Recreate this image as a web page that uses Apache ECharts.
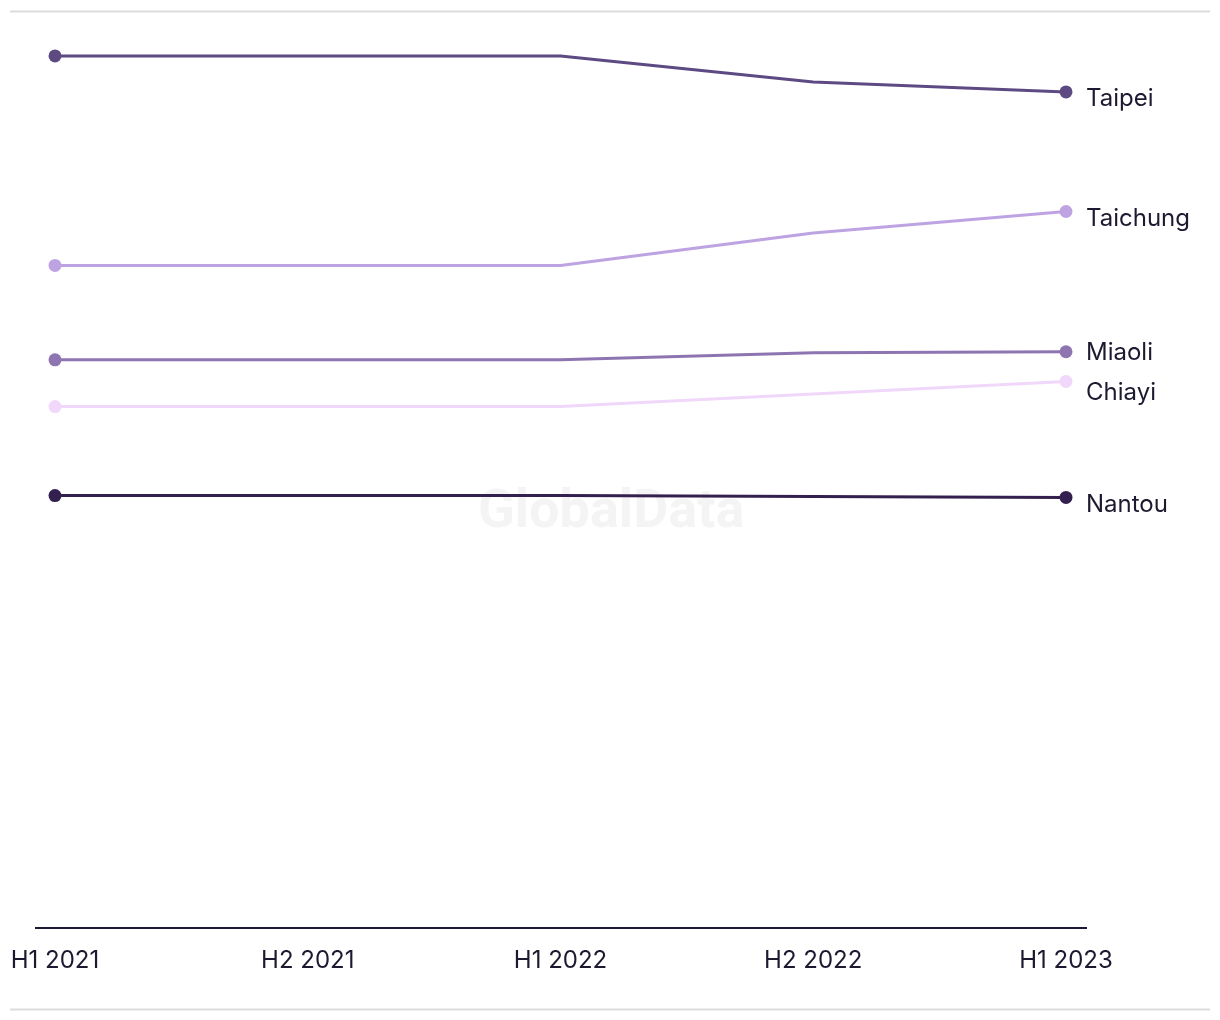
<!DOCTYPE html>
<html>
<head>
<meta charset="utf-8">
<script src="https://cdn.jsdelivr.net/npm/echarts@6/dist/echarts.min.js"></script>
<style>
html,body{margin:0;padding:0;background:#fff;}
#chart{width:1220px;height:1020px;}
</style>
</head>
<body>
<div id="chart"></div>
<script>
var categories = ['H1 2021', 'H2 2021', 'H1 2022', 'H2 2022', 'H1 2023'];
var seriesNames = ['Taipei', 'Taichung', 'Miaoli', 'Chiayi', 'Nantou'];
var taipei   = [97.0, 97.0, 97.0, 94.1, 93.0];
var taichung = [73.7, 73.7, 73.7, 77.3, 79.7];
var miaoli   = [63.2, 63.2, 63.2, 64.0, 64.1];
var chiayi   = [58.0, 58.0, 58.0, 59.4, 60.8];
var nantou   = [48.1, 48.1, 48.1, 48.0, 47.9];
var seriesData = [taipei, taichung, miaoli, chiayi, nantou];
var colors = ['#5d4a83', '#bea3e2', '#8e75b2', '#f1d8fb', '#34204f'];
var labelOffsets = [7, 7, 1, 11, 7];

var chart = echarts.init(document.getElementById('chart'));
var FONT = 'Inter, "Noto Sans", sans-serif';

var series = seriesNames.map(function (name, i) {
  return {
    name: name,
    type: 'line',
    data: seriesData[i],
    smooth: false,
    symbol: 'circle',
    symbolSize: function (v, p) { return (p.dataIndex === 0 || p.dataIndex === categories.length - 1) ? 13 : 0; },
    showAllSymbol: true,
    lineStyle: { width: 3, color: colors[i] },
    itemStyle: { color: colors[i] },
    emphasis: { disabled: true },
    endLabel: {
      show: true,
      formatter: '{a}',
      fontFamily: FONT,
      fontSize: 24,
      color: '#1c1a30',
      distance: 20,
      offset: [0, labelOffsets[i]]
    },
    z: 10 - i
  };
});

chart.setOption({
  animation: false,
  backgroundColor: '#fff',
  grid: { left: 55, right: 154, top: 29, bottom: 92, containLabel: false },
  xAxis: {
    type: 'category',
    data: categories,
    boundaryGap: false,
    axisLine: { show: false },
    axisTick: { show: false },
    splitLine: { show: false },
    axisLabel: { fontFamily: FONT, fontSize: 24, color: '#1c1a30', margin: 21 }
  },
  yAxis: {
    type: 'value',
    min: 0,
    max: 100,
    show: false
  },
  graphic: [
    { type: 'line', shape: { x1: 10, y1: 11.5, x2: 1210, y2: 11.5 }, style: { stroke: '#dcdcdc', lineWidth: 2 }, silent: true },
    { type: 'line', shape: { x1: 10, y1: 1009.5, x2: 1210, y2: 1009.5 }, style: { stroke: '#dcdcdc', lineWidth: 2 }, silent: true },
    { type: 'line', shape: { x1: 35, y1: 928, x2: 1087, y2: 928 }, style: { stroke: '#1d1836', lineWidth: 2 }, silent: true, z: 5 },
    { type: 'text', left: 478, top: 486, z: -1, style: { text: 'GlobalData', fontFamily: 'Roboto, "Liberation Sans", sans-serif', fontWeight: 'bold', fontSize: 54, fill: '#f4f4f5' }, silent: true }
  ],
  series: series
});
</script>
</body>
</html>
